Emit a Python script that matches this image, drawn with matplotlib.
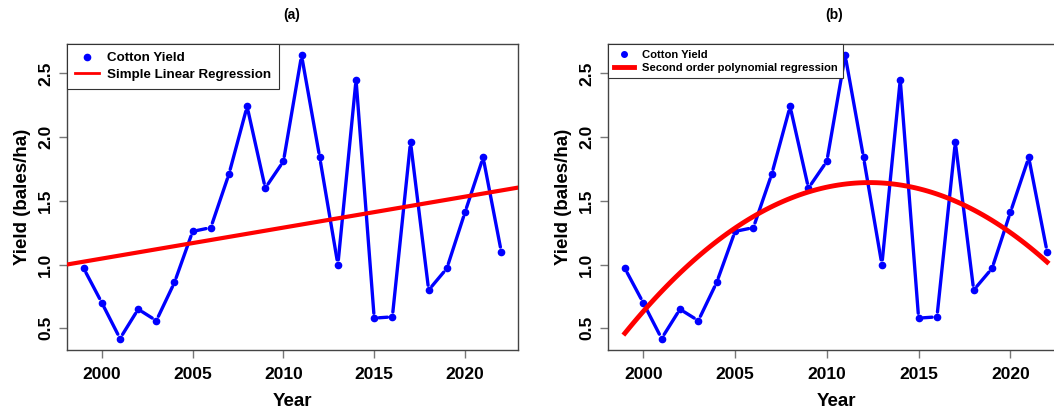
import numpy as np
import matplotlib
matplotlib.use('Agg')
import matplotlib.pyplot as plt

plt.rcParams['font.family'] = ['Liberation Sans', 'DejaVu Sans']
plt.rcParams['font.weight'] = 'bold'

years = list(range(1999, 2023))
yields = [0.97, 0.70, 0.42, 0.65, 0.56, 0.86, 1.26, 1.29, 1.71, 2.24, 1.60, 1.81,
          2.64, 1.84, 1.00, 2.45, 0.58, 0.59, 1.96, 0.80, 0.97, 1.41, 1.84, 1.10]
x_ticks = [2000, 2005, 2010, 2015, 2020]
y_ticks = [0.5, 1.0, 1.5, 2.0, 2.5]
titles = ['(a)', '(b)']
fit_labels = ['Simple Linear Regression', 'Second order polynomial regression']


def draw_type_b(ax, x, y):
    # R style type="b": points joined by lines with gaps at the points
    for i in range(len(x) - 1):
        ax.annotate('', xy=(x[i + 1], y[i + 1]), xytext=(x[i], y[i]),
                    arrowprops=dict(arrowstyle='-', color='blue', lw=2.4,
                                    shrinkA=3.5, shrinkB=3.5))
    ax.plot(x, y, 'o', color='blue', markersize=4.5, zorder=3)


def style_axes(ax):
    ax.set_xlim(1998.08, 2022.92)
    ax.set_ylim(0.33, 2.73)
    ax.set_xticks(x_ticks)
    ax.set_yticks(y_ticks)
    ax.set_yticklabels([str(v) for v in y_ticks], rotation=90, va='center')
    ax.tick_params(axis='both', length=6, color='#777777', labelsize=12.5, width=1)
    ax.tick_params(axis='x', pad=6)
    ax.tick_params(axis='y', pad=4)
    for s in ax.spines.values():
        s.set_color('#444444')
        s.set_linewidth(1)
    ax.set_xlabel('Year', fontsize=13.5, fontweight='bold', labelpad=8)
    ax.set_ylabel('Yield (bales/ha)', fontsize=13.5, fontweight='bold', labelpad=5)


fig = plt.figure(figsize=(10.54, 4.09), dpi=100)
W, H = 1054, 409
ax1 = fig.add_axes([67 / W, 1 - 350 / H, 451 / W, 306 / H])
ax2 = fig.add_axes([608 / W, 1 - 350 / H, 456 / W, 306 / H])

x = np.array(years, dtype=float)
y = np.array(yields)

# (a) linear fit
draw_type_b(ax1, years, yields)
m, b = np.polyfit(x, y, 1)
xs = np.linspace(1998.08, 2022.92, 100)
ax1.plot(xs, m * xs + b, color='red', lw=3, zorder=4)
style_axes(ax1)
h1 = [plt.Line2D([], [], ls='none', marker='o', color='blue', markersize=4.5),
      plt.Line2D([], [], color='red', lw=2)]
leg = ax1.legend(h1, ['Cotton Yield', fit_labels[0]], loc='upper left',
                 borderaxespad=0, fancybox=False, framealpha=1, edgecolor='#333333',
                 prop={'weight': 'bold', 'size': 9.65}, handlelength=1.8,
                 handletextpad=0.6, borderpad=0.6, labelspacing=0.3)
leg.get_frame().set_linewidth(0.8)
leg.set_zorder(5)

# (b) second order fit
draw_type_b(ax2, years, yields)
c = np.polyfit(x, y, 2)
xs2 = np.linspace(1999, 2022, 100)
ax2.plot(xs2, np.polyval(c, xs2), color='red', lw=3.5, zorder=4)
style_axes(ax2)
h2 = [plt.Line2D([], [], ls='none', marker='o', color='blue', markersize=4),
      plt.Line2D([], [], color='red', lw=3.5)]
leg2 = ax2.legend(h2, ['Cotton Yield', fit_labels[1]], loc='upper left',
                  borderaxespad=0, fancybox=False, framealpha=1, edgecolor='#333333',
                  prop={'weight': 'bold', 'size': 8.1}, handlelength=1.8,
                  handletextpad=0.7, borderpad=0.5, labelspacing=0.28)
leg2.get_frame().set_linewidth(0.8)
leg2.set_zorder(5)

fig.text(292 / W, 1 - 15 / H, titles[0], ha='center', va='center', fontsize=10, fontweight='bold')
fig.text(834 / W, 1 - 15 / H, titles[1], ha='center', va='center', fontsize=10, fontweight='bold')

fig.savefig('out.png', dpi=100)
